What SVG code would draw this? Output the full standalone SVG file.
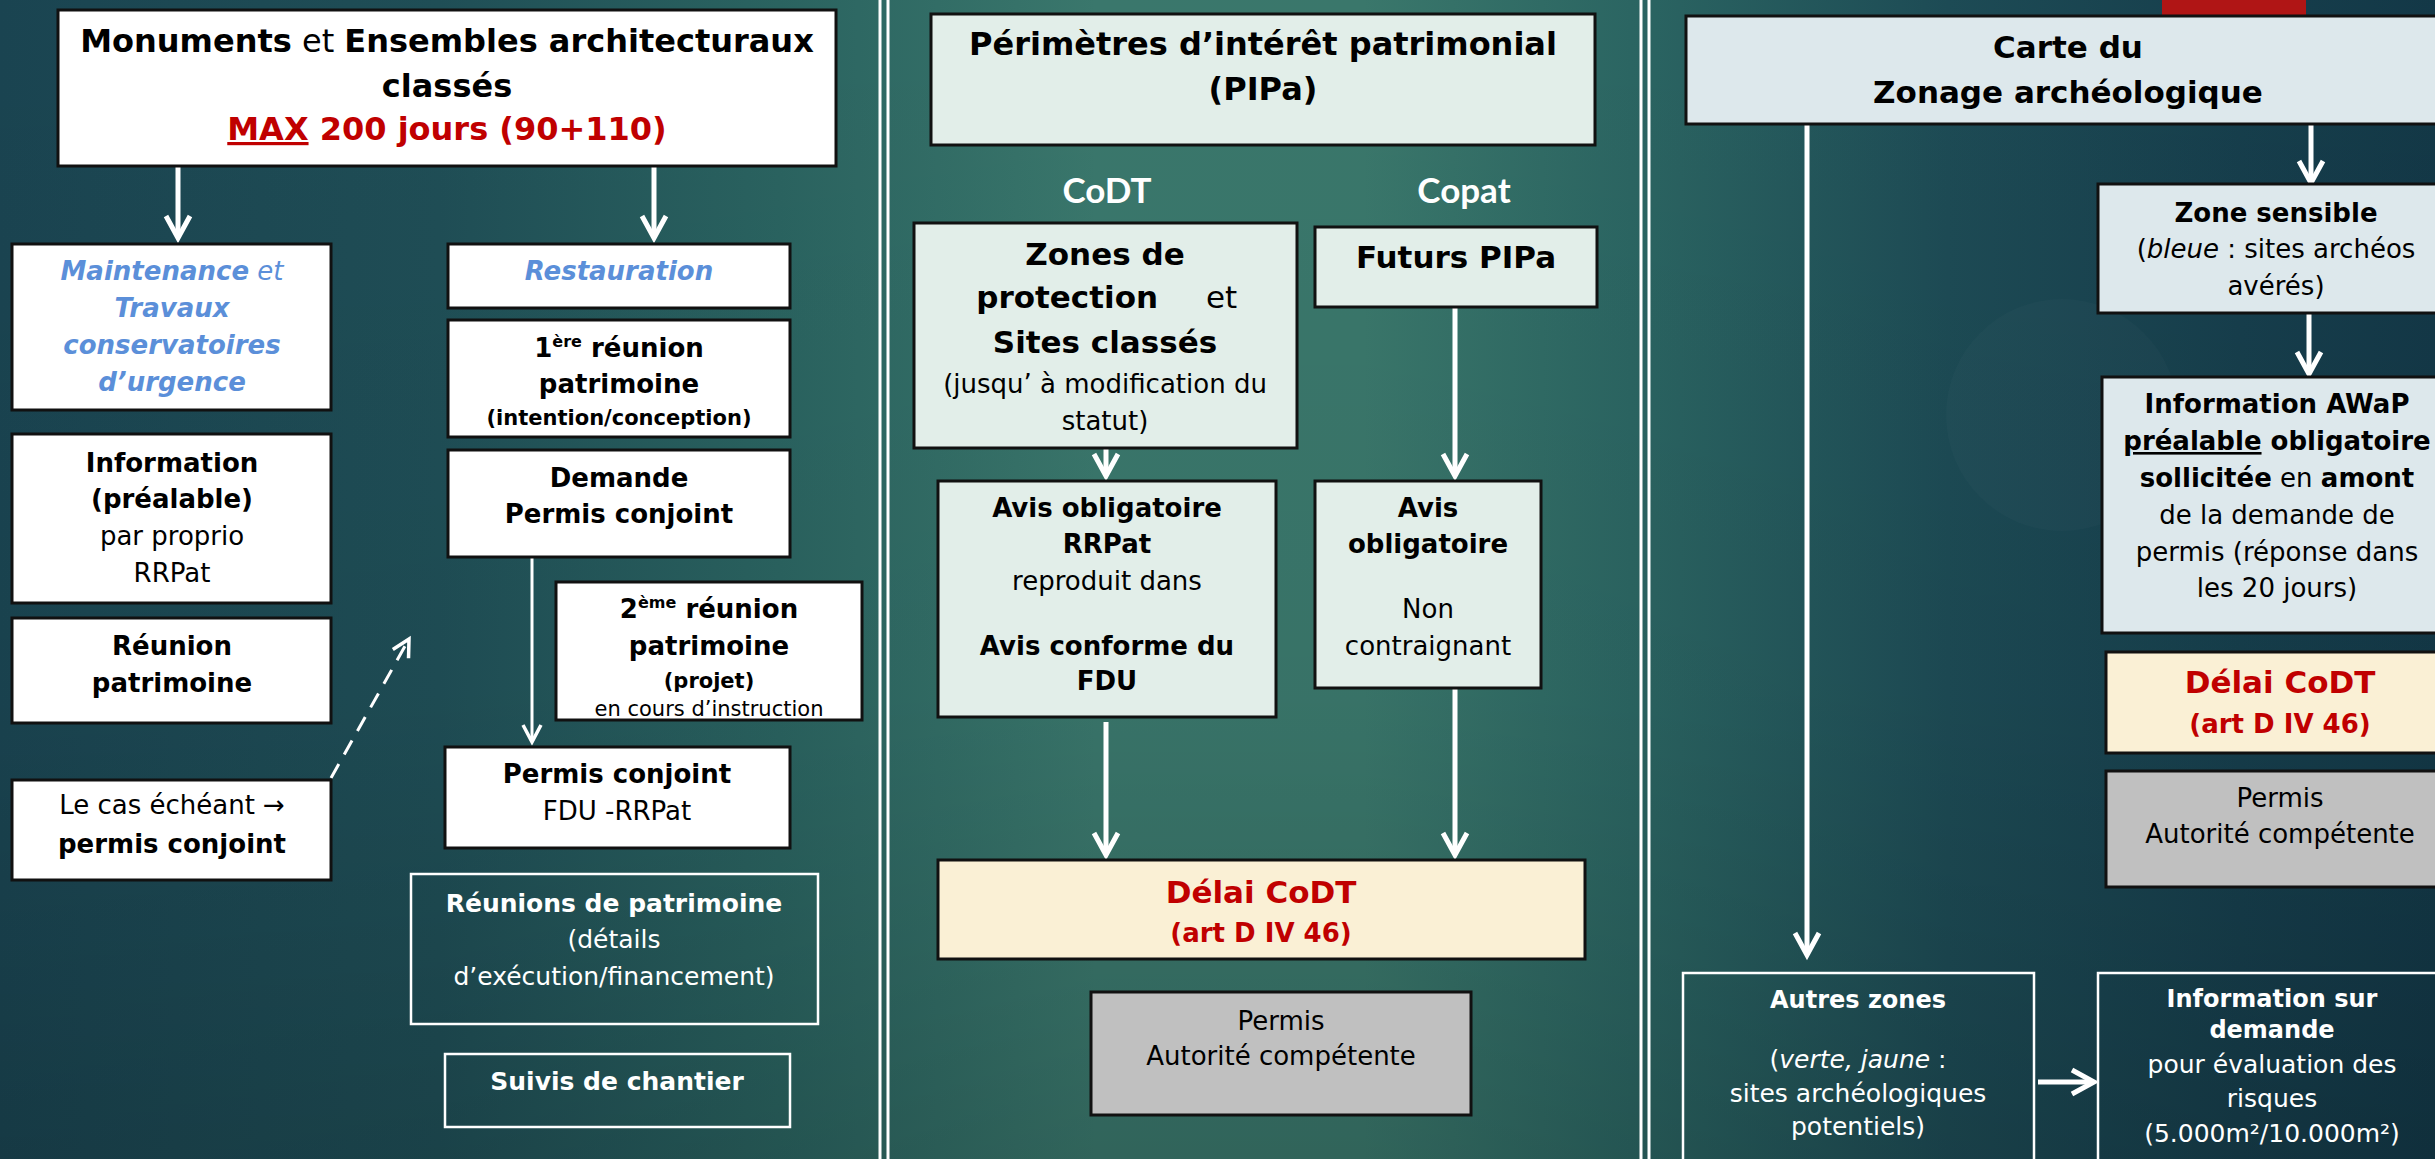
<svg xmlns="http://www.w3.org/2000/svg" width="2435" height="1159" viewBox="0 0 2435 1159">
  <defs>
    <linearGradient id="bg" x1="0" y1="0" x2="1" y2="0">
      <stop offset="0" stop-color="#1a4451"/>
      <stop offset="0.18" stop-color="#1f4e56"/>
      <stop offset="0.32" stop-color="#2a6360"/>
      <stop offset="0.45" stop-color="#3a776c"/>
      <stop offset="0.56" stop-color="#3a776b"/>
      <stop offset="0.67" stop-color="#2b6562"/>
      <stop offset="0.8" stop-color="#1d4b55"/>
      <stop offset="0.92" stop-color="#163e4c"/>
      <stop offset="1" stop-color="#133847"/>
    </linearGradient>
    <linearGradient id="shade" x1="0" y1="0" x2="0" y2="1">
      <stop offset="0" stop-color="#000" stop-opacity="0"/>
      <stop offset="0.6" stop-color="#000" stop-opacity="0.04"/>
      <stop offset="1" stop-color="#000" stop-opacity="0.16"/>
    </linearGradient>
    <marker id="ah" markerUnits="userSpaceOnUse" markerWidth="40" markerHeight="40" viewBox="-30 -20 40 40" refX="0" refY="0" orient="auto" overflow="visible">
      <path d="M-22,-12 L0,0 L-22,12" fill="none" stroke="#fff" stroke-width="5"/>
    </marker>
    <marker id="ahs" markerUnits="userSpaceOnUse" markerWidth="30" markerHeight="30" viewBox="-20 -15 30 30" refX="0" refY="0" orient="auto" overflow="visible">
      <path d="M-17,-9 L0,0 L-17,9" fill="none" stroke="#fff" stroke-width="3.5"/>
    </marker>
    <style>
      .t{font-family:"DejaVu Sans","Liberation Sans",sans-serif;text-anchor:middle;fill:#000}
      .w{fill:#fff}
      .b{font-weight:bold}
      .n{font-weight:normal}
      .i{font-style:italic}
      .blue{fill:#5b8fd9}
      .red{fill:#c00000}
      .s32{font-size:32px}
      .s31{font-size:31px}
      .s26{font-size:26px}
      .s25{font-size:25px}
      .s24{font-size:24px}
      .s22{font-size:22px}
      .s21{font-size:21px}
      .hd{font-family:Lato,"Open Sans",sans-serif;font-weight:bold;font-size:35px;fill:#fff;text-anchor:middle}
      .box{stroke:#111;stroke-width:3}
      .white{fill:#fff}
      .green{fill:#e2eee9}
      .pale{fill:#dde8ec}
      .cream{fill:#faf0d5}
      .grey{fill:#c0c0c0}
      .open{fill:none;stroke:#fff;stroke-width:2.5}
      .sep{stroke:#fff;stroke-width:3}
      .arr{stroke:#fff;stroke-width:5;fill:none;marker-end:url(#ah)}
      .thin{stroke:#fff;stroke-width:3;fill:none;marker-end:url(#ahs)}
    </style>
  </defs>

  <!-- background -->
  <rect width="2435" height="1159" fill="url(#bg)"/>
  <rect width="2435" height="1159" fill="url(#shade)"/>
  <circle cx="2062" cy="415" r="116" fill="#fff" opacity="0.018"/>
  <rect x="2162" y="0" width="144" height="15" fill="#b01515"/>

  <!-- column separators -->
  <g id="separators">
    <line class="sep" x1="880" y1="0" x2="880" y2="1159"/>
    <line class="sep" x1="888" y1="0" x2="888" y2="1159"/>
    <line class="sep" x1="1641" y1="0" x2="1641" y2="1159"/>
    <line class="sep" x1="1649" y1="0" x2="1649" y2="1159"/>
  </g>

  <!-- connectors -->
  <g id="connectors">
    <line class="arr" x1="178" y1="166" x2="178" y2="238"/>
    <line class="arr" x1="654" y1="166" x2="654" y2="238"/>
    <line class="thin" x1="532" y1="557" x2="532" y2="742"/>
    <line class="thin" x1="331" y1="778" x2="409" y2="639" stroke-dasharray="16 11"/>
    <line class="arr" x1="1106" y1="448" x2="1106" y2="476"/>
    <line class="arr" x1="1455" y1="307" x2="1455" y2="476"/>
    <line class="arr" x1="1106" y1="722" x2="1106" y2="855"/>
    <line class="arr" x1="1455" y1="688" x2="1455" y2="855"/>
    <line class="arr" x1="1807" y1="124" x2="1807" y2="955"/>
    <line class="arr" x1="2311" y1="124" x2="2311" y2="183"/>
    <line class="arr" x1="2309" y1="313" x2="2309" y2="374"/>
    <line class="arr" x1="2038" y1="1082" x2="2094" y2="1082" stroke-width="7"/>
  </g>

  <!-- column 1 : monuments -->
  <g id="monuments">
    <rect class="box white" x="58" y="10" width="778" height="156"/>
    <text class="t b s32" x="447" y="52">Monuments<tspan class="n"> et </tspan>Ensembles architecturaux</text>
    <text class="t b s32" x="447" y="97">classés</text>
    <text class="t b s32 red" x="447" y="140"><tspan text-decoration="underline">MAX</tspan> 200 jours (90+110)</text>
  </g>
  <g id="maintenance">
    <rect class="box white" x="12" y="244" width="319" height="166"/>
    <text class="t b i s26 blue" x="172" y="280">Maintenance<tspan class="n"> et</tspan></text>
    <text class="t b i s26 blue" x="172" y="317">Travaux</text>
    <text class="t b i s26 blue" x="172" y="354">conservatoires</text>
    <text class="t b i s26 blue" x="172" y="391">d’urgence</text>
  </g>
  <g id="information">
    <rect class="box white" x="12" y="434" width="319" height="169"/>
    <text class="t b s26" x="172" y="472">Information</text>
    <text class="t b s26" x="172" y="508">(préalable)</text>
    <text class="t s26" x="172" y="545">par proprio</text>
    <text class="t s26" x="172" y="582">RRPat</text>
  </g>
  <g id="reunion">
    <rect class="box white" x="12" y="618" width="319" height="105"/>
    <text class="t b s26" x="172" y="655">Réunion</text>
    <text class="t b s26" x="172" y="692">patrimoine</text>
  </g>
  <g id="cas-echeant">
    <rect class="box white" x="12" y="780" width="319" height="100"/>
    <text class="t s26" x="172" y="814">Le cas échéant →</text>
    <text class="t b s26" x="172" y="853">permis conjoint</text>
  </g>
  <g id="restauration">
    <rect class="box white" x="448" y="244" width="342" height="64"/>
    <text class="t b i s26 blue" x="619" y="280">Restauration</text>
  </g>
  <g id="reunion-1">
    <rect class="box white" x="448" y="320" width="342" height="117"/>
    <text class="t b s26" x="619" y="357">1<tspan dy="-10" font-size="16">ère</tspan><tspan dy="10"> réunion</tspan></text>
    <text class="t b s26" x="619" y="393">patrimoine</text>
    <text class="t b s21" x="619" y="425">(intention/conception)</text>
  </g>
  <g id="demande">
    <rect class="box white" x="448" y="450" width="342" height="107"/>
    <text class="t b s26" x="619" y="487">Demande</text>
    <text class="t b s26" x="619" y="523">Permis conjoint</text>
  </g>
  <g id="reunion-2">
    <rect class="box white" x="556" y="582" width="306" height="138"/>
    <text class="t b s26" x="709" y="618">2<tspan dy="-10" font-size="16">ème</tspan><tspan dy="10"> réunion</tspan></text>
    <text class="t b s26" x="709" y="655">patrimoine</text>
    <text class="t b s21" x="709" y="688">(projet)</text>
    <text class="t s21" x="709" y="716">en cours d’instruction</text>
  </g>
  <g id="permis-conjoint">
    <rect class="box white" x="445" y="747" width="345" height="101"/>
    <text class="t b s26" x="617" y="783">Permis conjoint</text>
    <text class="t s26" x="617" y="820">FDU -RRPat</text>
  </g>
  <g id="reunions-patrimoine">
    <rect class="open" x="411" y="874" width="407" height="150"/>
    <text class="t b s25 w" x="614" y="912">Réunions de patrimoine</text>
    <text class="t s25 w" x="614" y="948">(détails</text>
    <text class="t s25 w" x="614" y="985">d’exécution/financement)</text>
  </g>
  <g id="suivis">
    <rect class="open" x="445" y="1054" width="345" height="73"/>
    <text class="t b s25 w" x="617" y="1090">Suivis de chantier</text>
  </g>

  <!-- column 2 : PIPa -->
  <g id="pipa">
    <rect class="box green" x="931" y="14" width="664" height="131"/>
    <text class="t b s32" x="1263" y="55">Périmètres d’intérêt patrimonial</text>
    <text class="t b s32" x="1263" y="100">(PIPa)</text>
  </g>
  <g id="label-codt">
    <text class="hd" x="1107" y="203">CoDT</text>
  </g>
  <g id="label-copat">
    <text class="hd" x="1464" y="203">Copat</text>
  </g>
  <g id="zones-protection">
    <rect class="box green" x="914" y="223" width="383" height="225"/>
    <text class="t b s31" x="1105" y="265">Zones de</text>
    <text class="t b s31" x="1158" y="308" style="text-anchor:end">protection</text>
    <text class="t s31" x="1206" y="308" style="text-anchor:start">et</text>
    <text class="t b s31" x="1105" y="353">Sites classés</text>
    <text class="t s26" x="1105" y="393">(jusqu’ à modification du</text>
    <text class="t s26" x="1105" y="430">statut)</text>
  </g>
  <g id="futurs-pipa">
    <rect class="box green" x="1315" y="227" width="282" height="80"/>
    <text class="t b s31" x="1456" y="268">Futurs PIPa</text>
  </g>
  <g id="avis-rrpat">
    <rect class="box green" x="938" y="481" width="338" height="236"/>
    <text class="t b s26" x="1107" y="517">Avis obligatoire</text>
    <text class="t b s26" x="1107" y="553">RRPat</text>
    <text class="t s26" x="1107" y="590">reproduit dans</text>
    <text class="t b s26" x="1107" y="655">Avis conforme du</text>
    <text class="t b s26" x="1107" y="690">FDU</text>
  </g>
  <g id="avis-copat">
    <rect class="box green" x="1315" y="481" width="226" height="207"/>
    <text class="t b s26" x="1428" y="517">Avis</text>
    <text class="t b s26" x="1428" y="553">obligatoire</text>
    <text class="t s26" x="1428" y="618">Non</text>
    <text class="t s26" x="1428" y="655">contraignant</text>
  </g>
  <g id="delai-codt-1">
    <rect class="box cream" x="938" y="860" width="647" height="99"/>
    <text class="t b s31 red" x="1261" y="903">Délai CoDT</text>
    <text class="t b s26 red" x="1261" y="942">(art D IV 46)</text>
  </g>
  <g id="permis-1">
    <rect class="box grey" x="1091" y="992" width="380" height="123"/>
    <text class="t s26" x="1281" y="1030">Permis</text>
    <text class="t s26" x="1281" y="1065">Autorité compétente</text>
  </g>

  <!-- column 3 : archaeological zoning -->
  <g id="carte-zonage">
    <rect class="box pale" x="1686" y="16" width="770" height="108"/>
    <text class="t b s31" x="2068" y="58">Carte du</text>
    <text class="t b s31" x="2068" y="103">Zonage archéologique</text>
  </g>
  <g id="zone-sensible">
    <rect class="box pale" x="2098" y="184" width="360" height="129"/>
    <text class="t b s26" x="2276" y="222">Zone sensible</text>
    <text class="t s26" x="2276" y="258">(<tspan class="i">bleue</tspan> : sites archéos</text>
    <text class="t s26" x="2276" y="295">avérés)</text>
  </g>
  <g id="information-awap">
    <rect class="box pale" x="2102" y="377" width="356" height="256"/>
    <text class="t b s26" x="2277" y="413">Information AWaP</text>
    <text class="t b s26" x="2277" y="450"><tspan text-decoration="underline">préalable</tspan> obligatoire</text>
    <text class="t b s26" x="2277" y="487">sollicitée<tspan class="n"> en </tspan>amont</text>
    <text class="t s26" x="2277" y="524">de la demande de</text>
    <text class="t s26" x="2277" y="561">permis (réponse dans</text>
    <text class="t s26" x="2277" y="597">les 20 jours)</text>
  </g>
  <g id="delai-codt-2">
    <rect class="box cream" x="2106" y="652" width="352" height="101"/>
    <text class="t b s31 red" x="2280" y="693">Délai CoDT</text>
    <text class="t b s26 red" x="2280" y="733">(art D IV 46)</text>
  </g>
  <g id="permis-2">
    <rect class="box grey" x="2106" y="771" width="352" height="116"/>
    <text class="t s26" x="2280" y="807">Permis</text>
    <text class="t s26" x="2280" y="843">Autorité compétente</text>
  </g>
  <g id="autres-zones">
    <rect class="open" x="1683" y="973" width="351" height="200"/>
    <text class="t b s24 w" x="1858" y="1008">Autres zones</text>
    <text class="t s25 w" x="1858" y="1068">(<tspan class="i">verte, jaune</tspan> :</text>
    <text class="t s25 w" x="1858" y="1102">sites archéologiques</text>
    <text class="t s25 w" x="1858" y="1135">potentiels)</text>
  </g>
  <g id="information-demande">
    <rect class="open" x="2098" y="973" width="360" height="200"/>
    <text class="t b s24 w" x="2272" y="1007">Information sur</text>
    <text class="t b s24 w" x="2272" y="1038">demande</text>
    <text class="t s25 w" x="2272" y="1073">pour évaluation des</text>
    <text class="t s25 w" x="2272" y="1107">risques</text>
    <text class="t s25 w" x="2272" y="1142">(5.000m²/10.000m²)</text>
  </g>
</svg>
